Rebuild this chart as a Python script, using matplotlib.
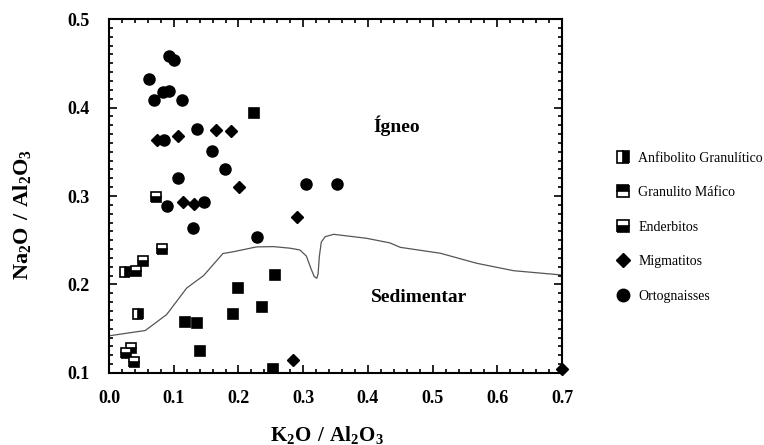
import matplotlib
matplotlib.use('Agg')
import matplotlib.pyplot as plt
from matplotlib.lines import Line2D
from matplotlib.ticker import MultipleLocator

plt.rcParams['font.family'] = ['Liberation Serif', 'DejaVu Serif']
plt.rcParams['mathtext.fontset'] = 'custom'
plt.rcParams['mathtext.rm'] = 'Liberation Serif'
plt.rcParams['mathtext.bf'] = 'Liberation Serif:bold'

# Anfibolito Granulitico
anf_x = [0.025, 0.044]
anf_y = [0.214, 0.167]
# Granulito Mafico
gra_x = [0.224, 0.117, 0.136, 0.140, 0.192, 0.200, 0.236, 0.257, 0.253]
gra_y = [0.394, 0.158, 0.156, 0.125, 0.167, 0.196, 0.175, 0.211, 0.104]
# Enderbitos
end_x = [0.073, 0.042, 0.053, 0.082, 0.027, 0.034, 0.038]
end_y = [0.299, 0.215, 0.227, 0.240, 0.123, 0.128, 0.112]
# Migmatitos
mig_x = [0.074, 0.106, 0.165, 0.188, 0.201, 0.114, 0.131, 0.290, 0.284, 0.700]
mig_y = [0.363, 0.368, 0.375, 0.373, 0.310, 0.293, 0.291, 0.276, 0.115, 0.105]
# Ortognaisses
ort_x = [0.061, 0.069, 0.093, 0.100, 0.084, 0.093, 0.113, 0.085, 0.136,
         0.159, 0.179, 0.107, 0.089, 0.147, 0.304, 0.352, 0.129, 0.228]
ort_y = [0.432, 0.409, 0.458, 0.454, 0.418, 0.419, 0.409, 0.363, 0.376,
         0.351, 0.330, 0.320, 0.289, 0.293, 0.314, 0.313, 0.264, 0.254]

# linha Igneo / Sedimentar
curve_x = [0.0, 0.056, 0.089, 0.120, 0.146, 0.176, 0.192, 0.228, 0.254, 0.280,
           0.295, 0.305, 0.312, 0.317, 0.321, 0.323, 0.325, 0.328, 0.334,
           0.347, 0.398, 0.434, 0.450, 0.512, 0.568, 0.625, 0.700]
curve_y = [0.142, 0.148, 0.166, 0.196, 0.210, 0.235, 0.237, 0.2425, 0.2428, 0.241,
           0.239, 0.232, 0.218, 0.209, 0.207, 0.212, 0.232, 0.248, 0.254,
           0.2567, 0.2522, 0.247, 0.242, 0.2353, 0.224, 0.2156, 0.2107]

fig = plt.figure(figsize=(7.64, 4.45), dpi=100)
ax = fig.add_axes([0.1427, 0.1618, 0.593, 0.7955])

ax.plot(curve_x, curve_y, color='#555555', linewidth=0.9, zorder=1)

sq = dict(linestyle='none', marker='s', markersize=7.5, markeredgecolor='black',
          markeredgewidth=1.2, color='black', markerfacecoloralt='white', zorder=3)
ax.plot(anf_x, anf_y, fillstyle='right', **sq)
ax.plot(gra_x, gra_y, fillstyle='full', **sq)
ax.plot(end_x, end_y, fillstyle='bottom', **sq)
ax.plot(mig_x, mig_y, linestyle='none', marker='D', markersize=5.8,
        color='black', zorder=3, clip_on=False)
ax.plot(ort_x, ort_y, linestyle='none', marker='o', markersize=8,
        color='black', zorder=3)

ax.set_xlim(0, 0.7)
ax.set_ylim(0.1, 0.5)
ax.xaxis.set_major_locator(MultipleLocator(0.1))
ax.xaxis.set_minor_locator(MultipleLocator(0.02))
ax.yaxis.set_major_locator(MultipleLocator(0.1))
ax.yaxis.set_minor_locator(MultipleLocator(0.01))
ax.tick_params(which='both', direction='in', top=True, right=True, width=1.2)
ax.tick_params(which='major', length=6)
ax.tick_params(which='minor', length=3)
ax.tick_params(axis='x', which='major', pad=12)
ax.tick_params(axis='y', which='major', pad=14)
for s in ax.spines.values():
    s.set_linewidth(1.5)
for label in ax.get_xticklabels() + ax.get_yticklabels():
    label.set_fontsize(13)
    label.set_fontweight('bold')

ax.set_xlabel(r'$\mathbf{K_2O\ /\ Al_2O_3}$', fontsize=15)
ax.xaxis.set_label_coords(0.481, -0.145)
ax.set_ylabel(r'$\mathbf{Na_2O\ /\ Al_2O_3}$', fontsize=16)
ax.yaxis.set_label_coords(-0.168, 0.449)

ax.text(0.445, 0.379, 'Ígneo', fontsize=14, fontweight='bold', ha='center', va='center')
ax.text(0.479, 0.185, 'Sedimentar', fontsize=14, fontweight='bold', ha='center', va='center')

mk = dict(linestyle='none', marker='s', markersize=8, markeredgecolor='black',
          markeredgewidth=1.2, color='black', markerfacecoloralt='white')
handles = [
    Line2D([], [], fillstyle='right', **mk),
    Line2D([], [], fillstyle='top', **mk),
    Line2D([], [], fillstyle='bottom', **mk),
    Line2D([], [], linestyle='none', marker='D', markersize=7, color='black'),
    Line2D([], [], linestyle='none', marker='o', markersize=9, color='black'),
]
labels = ['Anfibolito Granulítico', 'Granulito Máfico', 'Enderbitos',
          'Migmatitos', 'Ortognaisses']
fig.legend(handles, labels, loc='upper left', bbox_to_anchor=(0.797, 0.672),
           frameon=False, fontsize=10, labelspacing=1.55, handletextpad=0.5,
           handlelength=1.2, borderaxespad=0)

fig.savefig('out.png', dpi=100)
